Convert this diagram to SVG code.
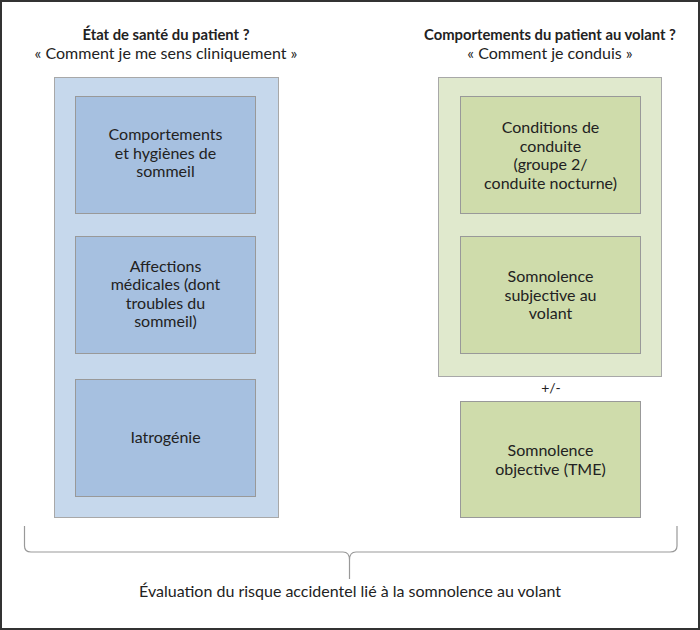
<svg xmlns="http://www.w3.org/2000/svg" width="700" height="630" viewBox="0 0 700 630">
<style>
text{font-family:Lato,"Open Sans","DejaVu Sans",sans-serif;fill:#222;text-anchor:middle;font-size:16px}
.h{font-weight:bold;font-size:14.8px}
.blueO{fill:#c6d8ec;stroke:#a8a8a8;stroke-width:1}
.blueI{fill:#a6c0e0;stroke:#999;stroke-width:1}
.greenO{fill:#e0e9cd;stroke:#a8a8a8;stroke-width:1}
.greenI{fill:#cfdcab;stroke:#999;stroke-width:1}
</style>
<rect x="0" y="0" width="700" height="630" fill="#fff"/>
<rect x="1" y="1" width="698" height="628" fill="none" stroke="#333" stroke-width="2"/>
<g id="header-left">
<text class="h" x="166" y="40">État de santé du patient ?</text>
<text x="166" y="59">« Comment je me sens cliniquement »</text>
</g>
<g id="header-right">
<text class="h" x="550" y="40">Comportements du patient au volant ?</text>
<text x="550" y="59">« Comment je conduis »</text>
</g>
<g id="etat-sante">
<rect class="blueO" x="54.5" y="77.5" width="224" height="440"/>
</g>
<g id="comportements-hygiene">
<rect class="blueI" x="75.5" y="96.5" width="180" height="117"/>
<text x="165.5" y="140">Comportements</text>
<text x="165.5" y="158.5">et hygiènes de</text>
<text x="165.5" y="177">sommeil</text>
</g>
<g id="affections">
<rect class="blueI" x="75.5" y="236.5" width="180" height="117"/>
<text x="165.5" y="272">Affections</text>
<text x="165.5" y="290">médicales (dont</text>
<text x="165.5" y="308.5">troubles du</text>
<text x="165.5" y="327">sommeil)</text>
</g>
<g id="iatrogenie">
<rect class="blueI" x="75.5" y="379.5" width="180" height="117"/>
<text x="165.5" y="443">Iatrogénie</text>
</g>
<g id="comportements-volant">
<rect class="greenO" x="438.5" y="77.5" width="223" height="299"/>
</g>
<g id="conditions">
<rect class="greenI" x="460.5" y="96.5" width="180" height="117"/>
<text x="550.5" y="133">Conditions de</text>
<text x="550.5" y="151.5">conduite</text>
<text x="550.5" y="170">(groupe 2/</text>
<text x="550.5" y="188.5">conduite nocturne)</text>
</g>
<g id="somnolence-subjective">
<rect class="greenI" x="460.5" y="236.5" width="180" height="117"/>
<text x="550.5" y="282">Somnolence</text>
<text x="550.5" y="300.5">subjective au</text>
<text x="550.5" y="319">volant</text>
</g>
<g id="plusminus">
<text x="551" y="393" style="font-size:14px">+/-</text>
</g>
<g id="somnolence-objective">
<rect class="greenI" x="460.5" y="401.5" width="180" height="116"/>
<text x="550.5" y="456">Somnolence</text>
<text x="550.5" y="474.5">objective (TME)</text>
</g>
<g id="connectors">
<path d="M24.5,526 L24.5,546 Q24.5,552 31,552 L343,552 Q349.5,552 349.5,560 L349.5,579 M349.5,560 Q349.5,552 356,552 L670,552 Q677,552 677,546 L677,526" fill="none" stroke="#999" stroke-width="1.2"/>
</g>
<g id="conclusion">
<text x="350" y="597">Évaluation du risque accidentel lié à la somnolence au volant</text>
</g>
</svg>
